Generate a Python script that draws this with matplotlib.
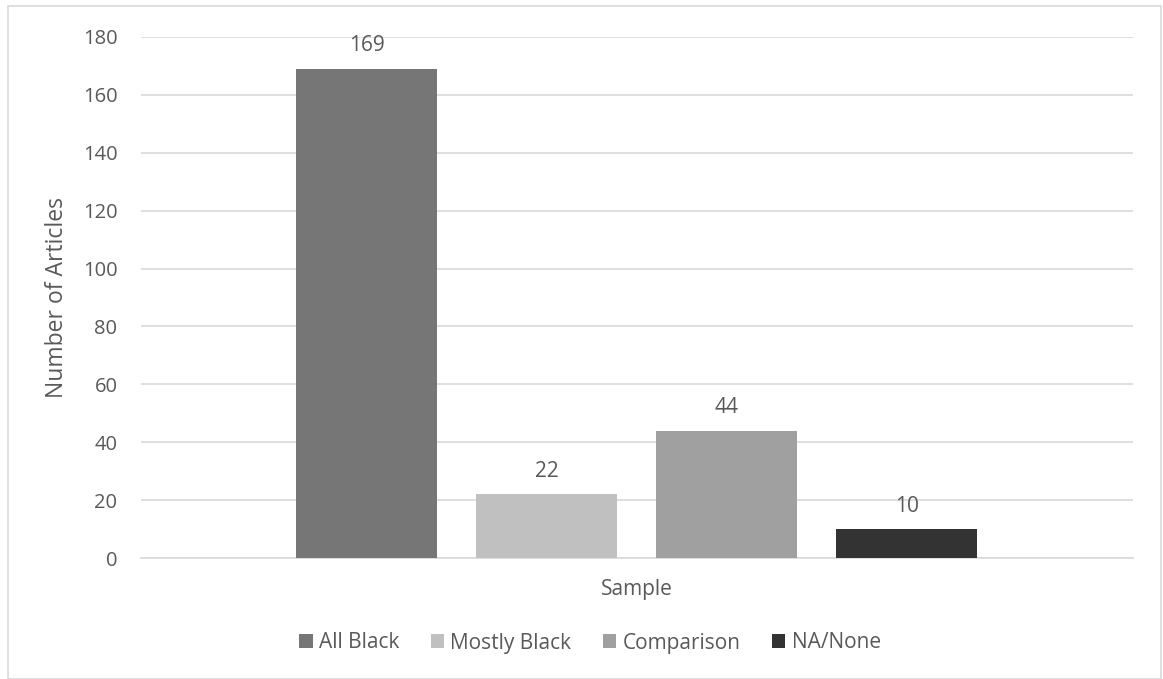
import matplotlib
matplotlib.use("Agg")
import matplotlib.pyplot as plt
from matplotlib.patches import Rectangle

categories = ["Sample"]
series_names = ["All Black", "Mostly Black", "Comparison", "NA/None"]
series_values = [169, 22, 44, 10]
series_colors = ["#767676", "#c0c0c0", "#a0a0a0", "#333333"]
yticks = [0, 20, 40, 60, 80, 100, 120, 140, 160, 180]

plt.rcParams['font.family'] = ['Open Sans', 'DejaVu Sans']
TXT = "#595959"

fig = plt.figure(figsize=(11.63, 6.79), dpi=100)
W, H = 1163, 679
ax = fig.add_axes([141 / W, 1 - 558 / H, (1133 - 141) / W, (558 - 37) / H])

offsets = [-0.2727, -0.0912, 0.0902, 0.2717]
bw = 141 / 992
handles = []
for name, v, c, off in zip(series_names, series_values, series_colors, offsets):
    b = ax.bar([off], [v], width=bw, color=c, label=name, zorder=3)
    handles.append(b)
    ax.annotate(str(v), (off, v), xytext=(0, 9), textcoords="offset points",
                ha="center", va="bottom", fontsize=15, color=TXT)

ax.set_xlim(-0.5, 0.5)
ax.set_ylim(0, 180)
ax.set_yticks(yticks)
ax.set_yticklabels([str(t) for t in yticks], fontsize=14.5, color=TXT)
ax.set_xticks([])
ax.yaxis.grid(True, color="#d9d9d9", linewidth=1.2, zorder=0)
ax.tick_params(axis="y", length=0, pad=17)
for s in ["top", "right", "left"]:
    ax.spines[s].set_visible(False)
ax.spines["bottom"].set_color("#d9d9d9")
ax.spines["bottom"].set_linewidth(1.2)
ax.set_axisbelow(True)

ax.set_ylabel("Number of Articles", fontsize=16.5, color=TXT, labelpad=10)
fig.text(637 / W, 1 - 590 / H, categories[0], ha="center", va="center", fontsize=15, color=TXT)

leg = fig.legend(handles=handles, labels=series_names, loc="center",
                 bbox_to_anchor=(590 / W, 1 - 643 / H), ncol=4, frameon=False,
                 fontsize=15, handlelength=0.65, handleheight=0.65, handletextpad=0.3,
                 columnspacing=1.5, labelcolor=TXT)

fig.patches.append(Rectangle((8 / W, 0), (1161 - 8) / W, 1 - 6 / H, transform=fig.transFigure,
                             fill=False, edgecolor="#d9d9d9", linewidth=1.2))

fig.savefig("out.png", dpi=100)
